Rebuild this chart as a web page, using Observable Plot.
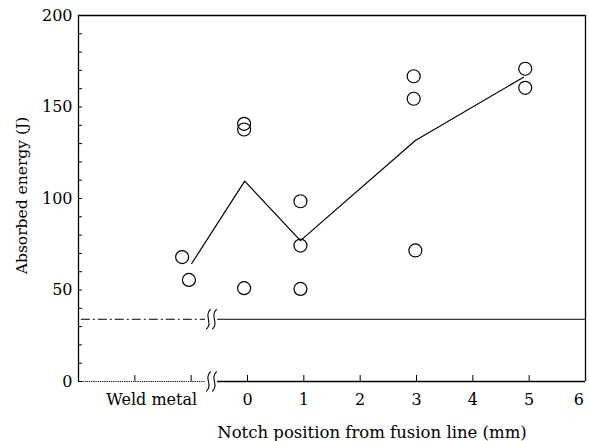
<!DOCTYPE html>
<html><head><meta charset="utf-8">
<script src="https://cdn.jsdelivr.net/npm/d3@7"></script>
<script src="https://cdn.jsdelivr.net/npm/@observablehq/plot@0.6"></script>
<style>body{margin:0;background:#fff} svg{display:block}</style>
</head><body><div id="chart"></div>
<script>
// Measured specimens (notch position in mm; weld metal drawn left of the axis break)
const pointX = [-1.16, -1.04, -0.06, -0.06, -0.06, 0.94, 0.94, 0.94, 2.95, 2.95, 2.98, 4.93, 4.93];
const pointY = [68, 55.5, 140.8, 137.7, 51, 98.5, 74.3, 50.6, 166.8, 154.5, 71.6, 170.9, 160.5];
// Mean line
const lineX = [-0.99, -0.05, 0.94, 2.98, 4.9];
const lineY = [64.5, 109.5, 77, 131.7, 166.3];
// Required absorbed energy (dash-dot line)
const requiredEnergy = [34];
// Axis ticks and labels
const yLabelTicks = [0, 50, 100, 150, 200];
const yMinorTicks = [0, 10, 20, 30, 40, 50, 60, 70, 80, 90, 100, 110, 120, 130, 140, 150, 160, 170, 180, 190, 200];
const xTicks = [-2, -1, 0, 1, 2, 3, 4, 5];
const xLabelPos = [-1.7, 0, 1, 2, 3, 4, 5, 5.88];
const xLabels = ["Weld metal", "0", "1", "2", "3", "4", "5", "6"];
const xTitle = "Notch position from fusion line (mm)";
const yTitle = "Absorbed energy (J)";

const X0 = -3, X1 = 6, breakLeft = -0.746, breakRight = -0.53, breakX = -0.64;
const font = "DejaVu Serif";

const breakSymbol = {
  draw(ctx, size) {
    const r = Math.sqrt(size / Math.PI);
    for (const o of [-r * 0.3, r * 0.3]) {
      ctx.moveTo(o + r * 0.22, -r);
      ctx.bezierCurveTo(o - r * 0.5, -r * 0.35, o + r * 0.5, r * 0.35, o - r * 0.22, r);
    }
  }
};

const pts = pointX.map((x, i) => ({x, y: pointY[i]}));
const line = lineX.map((x, i) => ({x, y: lineY[i]}));

const chart = Plot.plot({
  width: 589,
  height: 441,
  marginLeft: 78,
  marginRight: 4,
  marginTop: 15,
  marginBottom: 60,
  style: {fontFamily: font, background: "#fff", color: "#000"},
  x: {domain: [X0, X1], axis: null},
  y: {domain: [0, 200], axis: null},
  marks: [
    // frame
    Plot.ruleX([X0, X1], {y1: 0, y2: 200, stroke: "#000", strokeWidth: 1.3}),
    Plot.ruleY([200], {x1: X0, x2: X1, stroke: "#000", strokeWidth: 1.3}),
    Plot.ruleY([0], {x1: X0, x2: breakLeft, stroke: "#000", strokeWidth: 1, strokeDasharray: "1.2,1"}),
    Plot.ruleY([0], {x1: breakRight, x2: X1, stroke: "#000", strokeWidth: 1.3}),
    // requirement line
    Plot.ruleY(requiredEnergy, {x1: X0 + 0.05, x2: breakLeft, stroke: "#000", strokeWidth: 1, strokeDasharray: "9,3,2,3"}),
    Plot.ruleY(requiredEnergy, {x1: breakRight, x2: X1, stroke: "#000", strokeWidth: 1}),
    // axis breaks
    Plot.dot([0, ...requiredEnergy], {x: () => breakX, y: d => d, symbol: breakSymbol, r: 10, stroke: "#000", fill: "none", strokeWidth: 1.1}),
    // y ticks (inward)
    Plot.axisY(yMinorTicks, {tickSize: -4, text: null, stroke: "#000", strokeWidth: 1, label: null}),
    Plot.axisY(yLabelTicks, {tickSize: 0, tickPadding: 6, fontSize: 16, fill: "#000", label: null}),
    // x ticks (inward)
    Plot.axisX(xTicks, {tickSize: -6, text: null, stroke: "#000", strokeWidth: 1, label: null}),
    Plot.text(xLabels, {x: (d, i) => xLabelPos[i], frameAnchor: "bottom", lineAnchor: "middle", textAnchor: "middle", dy: 18, fontSize: 16, fill: "#000"}),
    // titles
    Plot.text([xTitle], {frameAnchor: "bottom", lineAnchor: "middle", textAnchor: "middle", dx: 40, dy: 51, fontSize: 16.5, fill: "#000"}),
    Plot.text([yTitle], {frameAnchor: "left", lineAnchor: "middle", textAnchor: "middle", rotate: -90, dx: -56, dy: -3, fontSize: 15.5, fill: "#000"}),
    // data
    Plot.line(line, {x: "x", y: "y", stroke: "#000", strokeWidth: 1.2}),
    Plot.dot(pts, {x: "x", y: "y", r: 6.5, stroke: "#000", fill: "none", strokeWidth: 1.2})
  ]
});
document.getElementById("chart").append(chart);
</script>
</body></html>
